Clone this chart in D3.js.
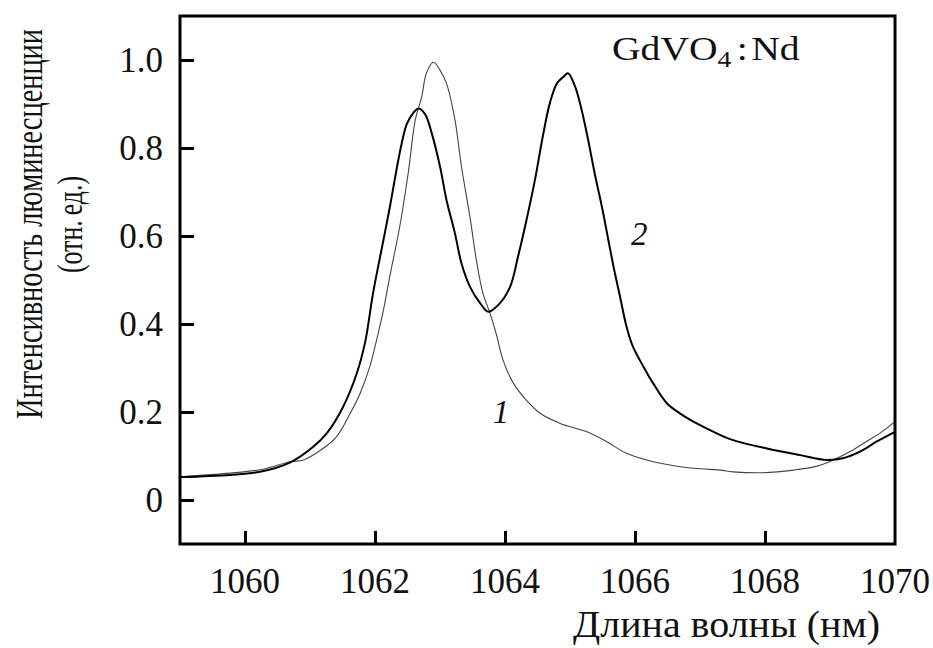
<!DOCTYPE html>
<html>
<head>
<meta charset="utf-8">
<script src="https://cdn.jsdelivr.net/npm/d3@7"></script>
<style>
  body { margin: 0; background: #fff; }
  text { font-family: "Liberation Serif", "Times New Roman", serif; fill: #111; }
</style>
</head>
<body>
<div id="chart"></div>
<script>
// spectrum 1 (thin, grey)
var wave1 = [1059, 1059.77, 1060.28, 1060.69, 1060.9, 1061.2, 1061.41, 1061.62, 1061.77, 1061.92, 1062.03, 1062.13, 1062.23, 1062.38, 1062.51, 1062.62, 1062.72, 1062.79, 1062.9, 1063.0, 1063.1, 1063.23, 1063.33, 1063.46, 1063.56, 1063.66, 1063.77, 1063.87, 1063.97, 1064.13, 1064.28, 1064.54, 1064.85, 1065.26, 1065.56, 1065.87, 1066.28, 1066.9, 1067.31, 1067.51, 1067.97, 1068.44, 1068.8, 1069.05, 1069.31, 1069.56, 1069.77, 1070];
var int1 = [0.053, 0.061, 0.070, 0.087, 0.091, 0.117, 0.144, 0.197, 0.242, 0.303, 0.367, 0.432, 0.51, 0.621, 0.742, 0.864, 0.917, 0.970, 0.995, 0.977, 0.947, 0.864, 0.758, 0.644, 0.545, 0.470, 0.424, 0.375, 0.318, 0.265, 0.235, 0.197, 0.174, 0.155, 0.133, 0.106, 0.087, 0.072, 0.068, 0.064, 0.062, 0.068, 0.077, 0.091, 0.110, 0.133, 0.152, 0.178];

// spectrum 2 (thick, black)
var wave2 = [1059, 1059.77, 1060.23, 1060.69, 1061.05, 1061.26, 1061.51, 1061.72, 1061.85, 1061.97, 1062.13, 1062.23, 1062.33, 1062.41, 1062.49, 1062.59, 1062.67, 1062.77, 1062.87, 1063.0, 1063.1, 1063.23, 1063.33, 1063.46, 1063.62, 1063.74, 1063.92, 1064.08, 1064.2, 1064.33, 1064.46, 1064.59, 1064.69, 1064.8, 1064.9, 1064.97, 1065.08, 1065.18, 1065.28, 1065.38, 1065.49, 1065.59, 1065.67, 1065.77, 1065.87, 1065.97, 1066.13, 1066.28, 1066.49, 1066.69, 1066.95, 1067.25, 1067.51, 1068.03, 1068.54, 1068.95, 1069.2, 1069.46, 1069.72, 1070];
var int2 = [0.052, 0.057, 0.064, 0.085, 0.121, 0.152, 0.212, 0.288, 0.36, 0.47, 0.591, 0.667, 0.750, 0.810, 0.855, 0.880, 0.890, 0.877, 0.835, 0.758, 0.682, 0.606, 0.538, 0.485, 0.447, 0.428, 0.447, 0.485, 0.553, 0.636, 0.727, 0.833, 0.902, 0.947, 0.962, 0.970, 0.939, 0.886, 0.818, 0.742, 0.667, 0.591, 0.530, 0.462, 0.394, 0.348, 0.303, 0.265, 0.220, 0.197, 0.174, 0.152, 0.136, 0.117, 0.102, 0.091, 0.095, 0.110, 0.133, 0.155];

var xTicks = [1060, 1062, 1064, 1066, 1068, 1070];
var yTicks = [0, 0.2, 0.4, 0.6, 0.8, 1.0];
var yTickLabels = ["0", "0.2", "0.4", "0.6", "0.8", "1.0"];

var margin = { top: 16, right: 38, bottom: 104, left: 180 };
var width = 933 - margin.left - margin.right;
var height = 648 - margin.top - margin.bottom;

var svg = d3.select("#chart")
  .append("svg")
  .attr("width", 933)
  .attr("height", 648)
  .append("g")
  .attr("transform", "translate(" + margin.left + "," + margin.top + ")");

var x = d3.scaleLinear().domain([1059, 1070]).range([0, width]);
var y = d3.scaleLinear().domain([-0.1, 1.1]).range([height, 0]);

// inward ticks, labels drawn separately
var xAxis = d3.axisBottom(x).tickValues(xTicks.slice(0, 5)).tickSize(-13).tickFormat("");
var yAxis = d3.axisLeft(y).tickValues(yTicks).tickSize(-14).tickFormat("");

svg.append("g").attr("transform", "translate(0," + height + ")").call(xAxis)
  .call(function(g) { g.select(".domain").remove(); })
  .selectAll("line").attr("stroke", "#000").attr("stroke-width", 3);
svg.append("g").call(yAxis)
  .call(function(g) { g.select(".domain").remove(); })
  .selectAll("line").attr("stroke", "#000").attr("stroke-width", 3);

svg.selectAll(".xlab")
  .data(xTicks)
  .enter()
  .append("text")
  .attr("x", function(d) { return x(d); })
  .attr("y", height + 49)
  .attr("text-anchor", "middle")
  .style("font-size", "35px")
  .text(function(d) { return d; });

svg.selectAll(".ylab")
  .data(yTicks)
  .enter()
  .append("text")
  .attr("x", -17)
  .attr("y", function(d) { return y(d); })
  .attr("dy", "0.34em")
  .attr("text-anchor", "end")
  .style("font-size", "35px")
  .text(function(d, i) { return yTickLabels[i]; });

// curves
var line = d3.line()
  .x(function(d) { return x(d[0]); })
  .y(function(d) { return y(d[1]); })
  .curve(d3.curveCatmullRom.alpha(0.5));

svg.append("path")
  .datum(d3.zip(wave1, int1))
  .attr("d", line)
  .attr("fill", "none")
  .attr("stroke", "#444")
  .attr("stroke-width", 1.1);

svg.append("path")
  .datum(d3.zip(wave2, int2))
  .attr("d", line)
  .attr("fill", "none")
  .attr("stroke", "#000")
  .attr("stroke-width", 2);

// frame
svg.append("rect")
  .attr("width", width)
  .attr("height", height)
  .attr("fill", "none")
  .attr("stroke", "#000")
  .attr("stroke-width", 3);

// curve numbers
svg.append("text").attr("x", x(1064.0) - 4).attr("y", y(0.2) + 11)
  .attr("text-anchor", "middle").style("font-size", "33px").style("font-style", "italic").text("1");
svg.append("text").attr("x", x(1065.85) + 14).attr("y", y(0.6) + 9)
  .attr("text-anchor", "middle").style("font-size", "33px").style("font-style", "italic").text("2");

// sample name (slightly wide, as in the figure)
var sampleLabel = svg.append("text")
  .attr("transform", "translate(432,44) scale(1.2,1)")
  .style("font-size", "33px");
sampleLabel.append("tspan").attr("x", 0).text("GdVO");
sampleLabel.append("tspan").attr("x", 88).attr("dy", 7).style("font-size", "23px").text("4");
sampleLabel.append("tspan").attr("x", 104).attr("dy", -7).text(":");
sampleLabel.append("tspan").attr("x", 116).text("Nd");

// axis titles
svg.append("text")
  .attr("x", 393)
  .attr("y", height + 93)
  .attr("textLength", 307)
  .attr("lengthAdjust", "spacingAndGlyphs")
  .style("font-size", "37px")
  .text("Длина волны (нм)");

svg.append("text")
  .attr("transform", "translate(" + (42 - margin.left) + ",403) rotate(-90)")
  .attr("textLength", 390)
  .attr("lengthAdjust", "spacingAndGlyphs")
  .style("font-size", "38px")
  .text("Интенсивность люминесценции");
svg.append("text")
  .attr("transform", "translate(" + (82 - margin.left) + ",257) rotate(-90)")
  .attr("textLength", 97)
  .attr("lengthAdjust", "spacingAndGlyphs")
  .style("font-size", "35px")
  .text("(отн.\u2009ед.)");
</script>
</body>
</html>
